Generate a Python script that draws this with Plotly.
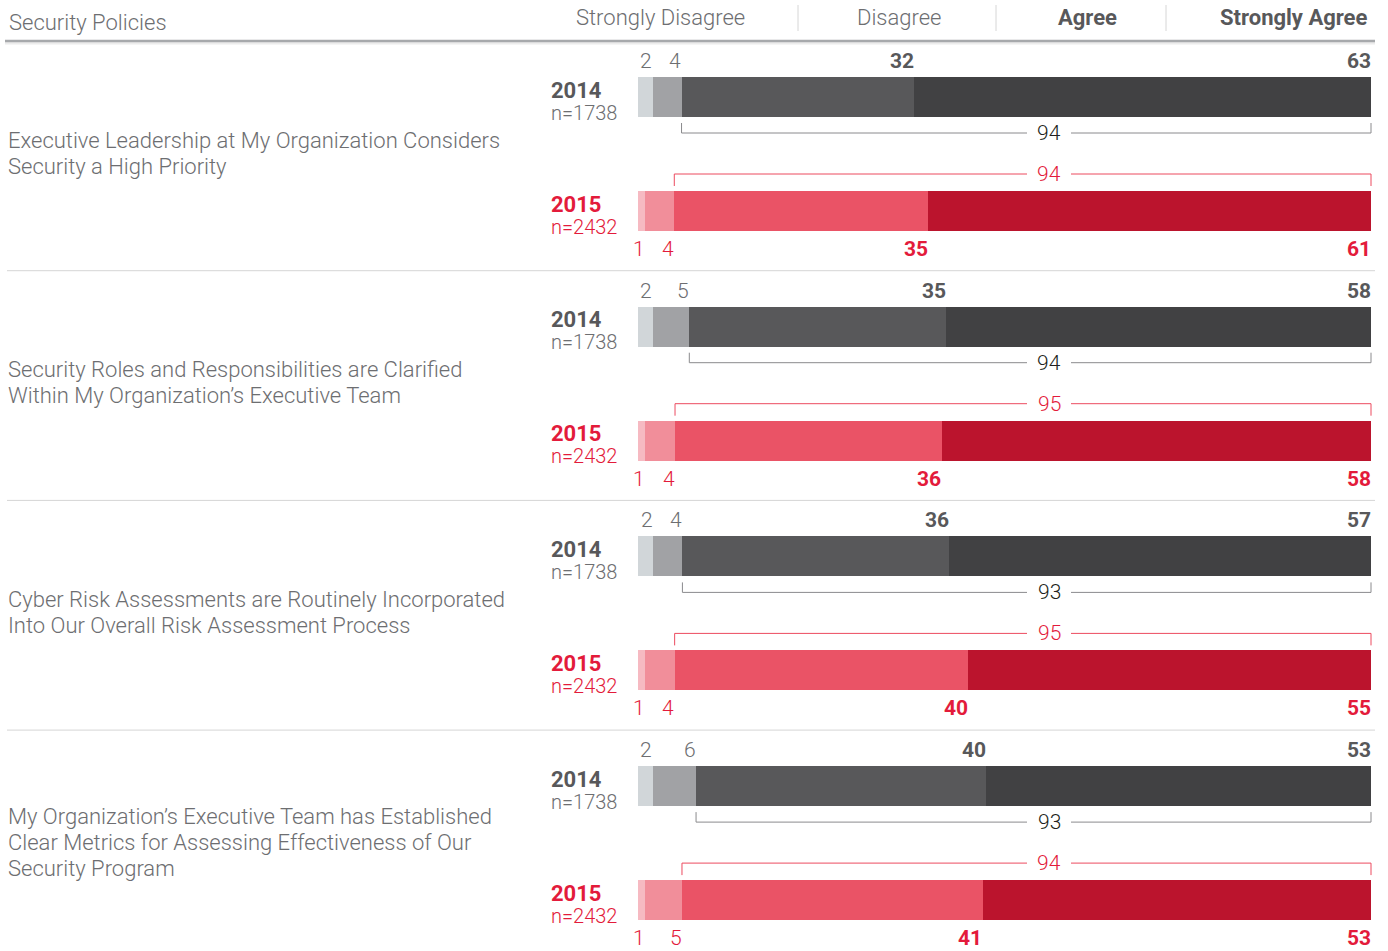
import plotly.graph_objects as go

# ---- data -------------------------------------------------------------
questions = [
    "Executive Leadership at My Organization Considers<br>Security a High Priority",
    "Security Roles and Responsibilities are Clarified<br>Within My Organization’s Executive Team",
    "Cyber Risk Assessments are Routinely Incorporated<br>Into Our Overall Risk Assessment Process",
    "My Organization’s Executive Team has Established<br>Clear Metrics for Assessing Effectiveness of Our<br>Security Program",
]
responses = ["Strongly Disagree", "Disagree", "Agree", "Strongly Agree"]
years = ["2014", "2015"]
sample_sizes = ["n=1738", "n=2432"]

strongly_disagree_2014 = [2, 2, 2, 2]
disagree_2014 = [4, 5, 4, 6]
agree_2014 = [32, 35, 36, 40]
strongly_agree_2014 = [63, 58, 57, 53]

strongly_disagree_2015 = [1, 1, 1, 1]
disagree_2015 = [4, 4, 4, 5]
agree_2015 = [35, 36, 40, 41]
strongly_agree_2015 = [61, 58, 55, 53]

net_agree_2014 = [94, 94, 93, 93]
net_agree_2015 = [94, 95, 95, 94]

# ---- layout constants (pixels) ------------------------------------------
W, H = 1388, 951
BAR_X0, BAR_X1 = 638, 1371
PX_PER_UNIT = (BAR_X1 - BAR_X0) / 100.0
HEADER_LINE_Y = 41
GROUP_PITCH = 229.7
ROW_OFFSETS = [56, 170]
BAR_H = 40
NET_LABEL_X = 1049
QUESTION_LINE_PITCH = 26

GREYS = ["#d1d6d9", "#a1a2a5", "#58585a", "#414143"]
REDS = ["#f6bac2", "#f18e9a", "#ea5366", "#bb142d"]
GREY_TEXT = "#58585a"
LIGHT_TEXT = "#6d6e71"
RED_TEXT = "#e31b3b"
FONT = "Roboto, 'Open Sans', sans-serif"

series_2014 = [strongly_disagree_2014, disagree_2014, agree_2014, strongly_agree_2014]
series_2015 = [strongly_disagree_2015, disagree_2015, agree_2015, strongly_agree_2015]


def px_to_x(px):
    return (px - BAR_X0) / PX_PER_UNIT


def bar_center(group, row):
    return HEADER_LINE_Y + ROW_OFFSETS[row] + group * GROUP_PITCH


fig = go.Figure()

# stacked bars, normalised to 100 % per row
for row, (series, colors) in enumerate([(series_2014, GREYS), (series_2015, REDS)]):
    ys = [bar_center(g, row) for g in range(len(questions))]
    for k, (vals, col) in enumerate(zip(series, colors)):
        fig.add_trace(go.Bar(
            x=vals, y=ys, orientation="h", width=BAR_H,
            marker=dict(color=col, line=dict(width=0)),
            name=f"{years[row]} {responses[k]}", showlegend=False,
            hoverinfo="skip",
        ))

annotations = []
shapes = []


def text(x, y, s, size, color, weight=300, xanchor="left", xref="x", yanchor="middle"):
    annotations.append(dict(
        x=x, y=y, xref=xref, yref="y", text=s, showarrow=False,
        xanchor=xanchor, yanchor=yanchor, align="left", borderpad=0,
        font=dict(family=FONT, size=size, color=color, weight=weight),
    ))


def line(x0, y0, x1, y1, color, width=1, xref="x"):
    shapes.append(dict(type="line", xref=xref, yref="y", x0=x0, y0=y0, x1=x1, y1=y1,
                       line=dict(color=color, width=width), layer="above"))


# header
text(8 / W, 22, "Security Policies", 22, LIGHT_TEXT, xref="paper")
header_centers = [660, 899, 1087, 1293]
for name, cx in zip(responses, header_centers):
    bold = name in ("Agree", "Strongly Agree")
    text(cx / W, 17, name, 22, GREY_TEXT if bold else LIGHT_TEXT,
         weight=700 if bold else 300, xanchor="center", xref="paper")
for sx in [798, 996, 1166]:
    line(sx / W, 5, sx / W, 31, "#d6d6d6", 1, xref="paper")
line(5 / W, HEADER_LINE_Y + 2, 1375 / W, HEADER_LINE_Y + 2, "#ececec", 3, xref="paper")
line(5 / W, HEADER_LINE_Y, 1375 / W, HEADER_LINE_Y, "#a7a9ac", 2.5, xref="paper")

for g, q in enumerate(questions):
    mid = (bar_center(g, 0) + bar_center(g, 1)) / 2 - 1
    q_lines = q.split("<br>")
    for j, ln in enumerate(q_lines):
        ly = mid + (j - (len(q_lines) - 1) / 2) * QUESTION_LINE_PITCH
        text(7 / W, ly, ln, 22, LIGHT_TEXT, xref="paper")
    if g > 0:
        sep = HEADER_LINE_Y + g * GROUP_PITCH
        line(7 / W, sep, 1375 / W, sep, "#d5d5d5", 1, xref="paper")

    for row, (series, net) in enumerate([(series_2014, net_agree_2014), (series_2015, net_agree_2015)]):
        yc = bar_center(g, row)
        main = GREY_TEXT if row == 0 else RED_TEXT
        light = LIGHT_TEXT if row == 0 else RED_TEXT
        # year + sample size as one two-line label
        label = (f"<span style='font-size:22px;font-weight:700'>{years[row]}</span><br>"
                 f"<span style='font-size:20px;color:{light}'>{sample_sizes[row]}</span>")
        text(550 / W, yc + 4, label, 17, main, xref="paper")

        vals = [s[g] for s in series]
        total = sum(vals)
        cum = 0.0
        ends = []
        for v in vals:
            cum += v
            ends.append(cum / total * 100)
        label_y = yc - 36 if row == 0 else yc + 38
        for k, (v, e) in enumerate(zip(vals, ends)):
            text(e + 0.1, label_y, str(v), 21, main if k >= 2 else light,
                 weight=700 if k >= 2 else 300, xanchor="right")

        # net-agree bracket over the two agree segments
        bx0 = ends[1]
        bx1 = 100
        gap_l = px_to_x(NET_LABEL_X - 22)
        gap_r = px_to_x(NET_LABEL_X + 22)
        if row == 0:
            hy = yc + BAR_H / 2 + 16
            vy = yc + BAR_H / 2 + 6
            col = "#8a8a8d"
            tcol = "#231f20"
        else:
            hy = yc - BAR_H / 2 - 17
            vy = yc - BAR_H / 2 - 5
            col = "#ec4a5f"
            tcol = RED_TEXT
        line(bx0, hy, gap_l, hy, col)
        line(gap_r, hy, bx1, hy, col)
        line(bx0, hy, bx0, vy, col)
        line(bx1, hy, bx1, vy, col)
        text(NET_LABEL_X / W, hy, str(net[g]), 21, tcol, xanchor="center", xref="paper")

fig.update_layout(
    width=W, height=H,
    margin=dict(l=0, r=0, t=0, b=0),
    barmode="stack", barnorm="percent",
    paper_bgcolor="white", plot_bgcolor="white",
    xaxis=dict(range=[px_to_x(0), px_to_x(W)], visible=False, fixedrange=True, domain=[0, 1]),
    yaxis=dict(range=[H, 0], visible=False, fixedrange=True, domain=[0, 1]),
    annotations=annotations, shapes=shapes,
    font=dict(family=FONT),
)

fig.write_html("out.html", config=dict(displayModeBar=False))
